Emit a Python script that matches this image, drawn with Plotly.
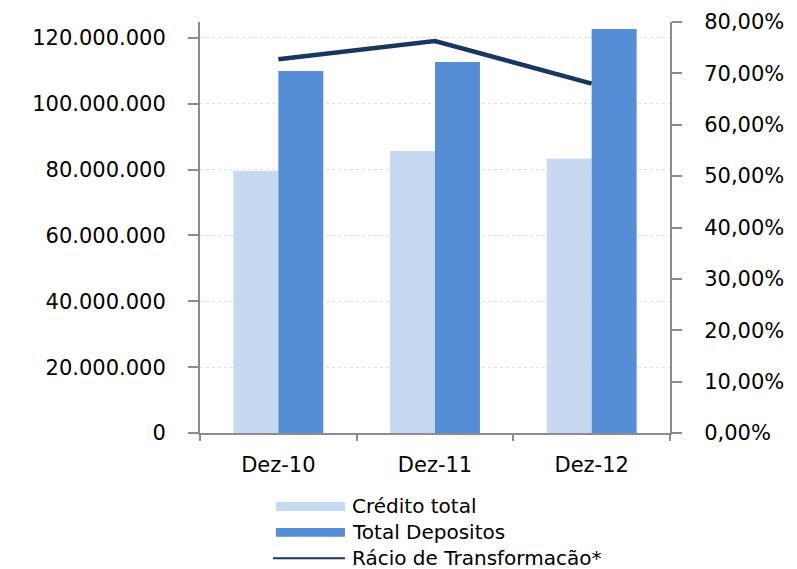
import plotly.graph_objects as go

categories = ["Dez-10", "Dez-11", "Dez-12"]
credito_total = [79.6e6, 85.7e6, 83.3e6]
total_depositos = [110.0e6, 112.7e6, 122.7e6]
racio = [0.7276, 0.763, 0.680]

series_names = ["Crédito total", "Total Depositos", "Rácio de Transformacão*"]
series_colors = ["#C6D9F1", "#558ED5", "#17375E"]

left_ticks = [0, 20e6, 40e6, 60e6, 80e6, 100e6, 120e6]
right_ticks = [0, 0.1, 0.2, 0.3, 0.4, 0.5, 0.6, 0.7, 0.8]

FONT = "DejaVu Sans"
AXIS_COL = "#8C8C8C"
W, H = 797, 569
ML, MR, MT, MB = 200, 127, 22, 135.5
PW, PH = W - ML - MR, H - MT - MB

fig = go.Figure()
fig.add_trace(go.Bar(x=categories, y=credito_total, name=series_names[0],
                     marker=dict(color=series_colors[0], line=dict(width=0))))
fig.add_trace(go.Bar(x=categories, y=total_depositos, name=series_names[1],
                     marker=dict(color=series_colors[1], line=dict(width=0))))
fig.add_trace(go.Scatter(x=categories, y=racio, name=series_names[2],
                         mode="lines", yaxis="y2",
                         line=dict(color=series_colors[2], width=4.5)))


def px_x(px):
    return (px - ML) / PW


def px_y(py):
    return (H - MB - py) / PH


# custom legend (wide swatches as in the reference)
legend_rows = [507, 533, 559]
shapes = []
annotations = []
for i, (nm, col, ry) in enumerate(zip(series_names, series_colors, legend_rows)):
    if i < 2:
        shapes.append(dict(type="rect", xref="paper", yref="paper",
                           x0=px_x(276), x1=px_x(345), y0=px_y(ry + 4.5), y1=px_y(ry - 4.5),
                           fillcolor=col, line=dict(width=0)))
    else:
        shapes.append(dict(type="line", xref="paper", yref="paper",
                           x0=px_x(273), x1=px_x(345), y0=px_y(ry), y1=px_y(ry),
                           line=dict(color=col, width=2)))
    annotations.append(dict(text=nm, xref="paper", yref="paper", x=px_x(350), y=px_y(ry),
                            xanchor="left", yanchor="middle", showarrow=False,
                            font=dict(family=FONT, size=20, color="black")))

fig.update_layout(
    width=W, height=H,
    margin=dict(l=ML, r=MR, t=MT, b=MB, autoexpand=False),
    paper_bgcolor="white", plot_bgcolor="white",
    separators=",.",
    barmode="group", bargap=0.426, bargroupgap=0,
    font=dict(family=FONT, size=21, color="black"),
    showlegend=False,
    shapes=shapes, annotations=annotations,
    xaxis=dict(type="category", showline=True, linecolor=AXIS_COL, linewidth=2,
               ticks="outside", tickson="boundaries", ticklen=6, tickcolor=AXIS_COL,
               tickwidth=2, showgrid=False, tickfont=dict(family=FONT, size=21),
               ticklabelstandoff=12, automargin=False),
    yaxis=dict(range=[0, 124.85e6], tickvals=left_ticks, tickformat=",d",
               showline=True, linecolor=AXIS_COL, linewidth=2,
               ticks="outside", ticklen=10, tickcolor=AXIS_COL, tickwidth=2,
               showgrid=True, gridcolor="#D5DFF1", griddash="3px,3px", gridwidth=1.3,
               zeroline=False, tickfont=dict(family=FONT, size=21),
               ticklabelstandoff=18, automargin=False),
    yaxis2=dict(range=[0, 0.8], tickvals=right_ticks, tickformat=".2%",
                overlaying="y", side="right",
                showline=True, linecolor=AXIS_COL, linewidth=2,
                ticks="outside", ticklen=10, tickcolor=AXIS_COL, tickwidth=2,
                showgrid=False, zeroline=False, tickfont=dict(family=FONT, size=21),
                ticklabelstandoff=18, automargin=False),
)

fig.write_html("out.html")
